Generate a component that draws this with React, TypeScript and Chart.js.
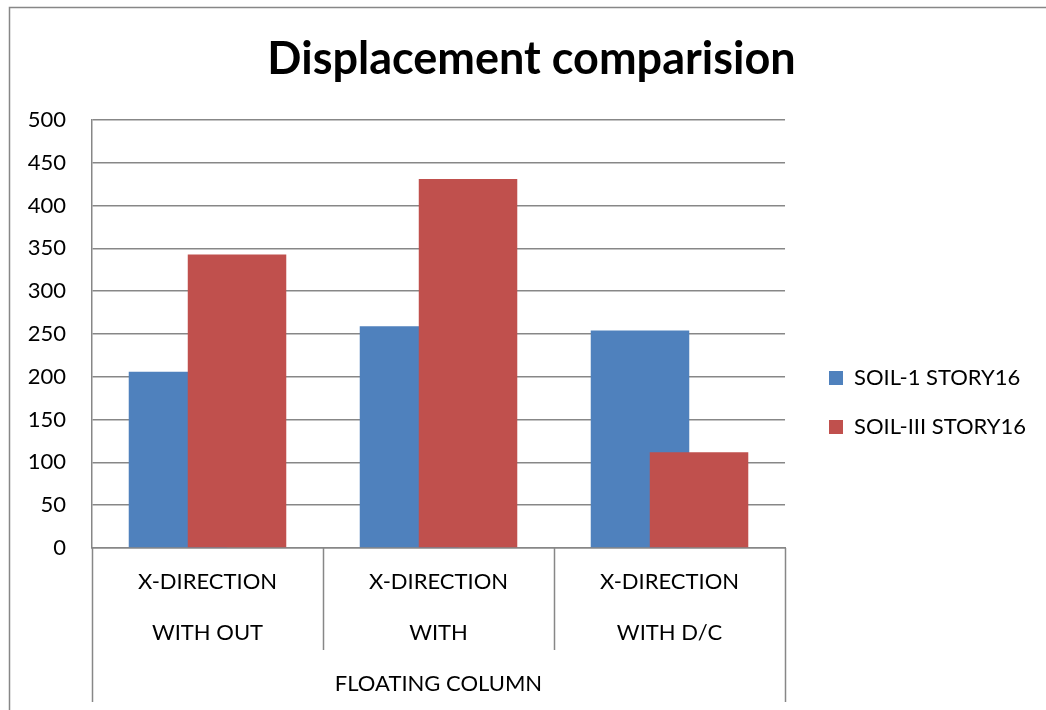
import React, { useEffect, useRef } from "react";
import { Chart, registerables } from "chart.js";

Chart.register(...registerables);

// ---- data ----
const categoryLabels: string[][] = [
  ["X-DIRECTION", "WITH OUT"],
  ["X-DIRECTION", "WITH"],
  ["X-DIRECTION", "WITH D/C"],
];
const groupLabel = "FLOATING COLUMN";
const chartTitle = "Displacement comparision";
const seriesNames = ["SOIL-1 STORY16", "SOIL-III STORY16"];
const soil1Values = [206, 259, 254];
const soil3Values = [343, 431, 112];
const yMin = 0;
const yMax = 500;
const yStep = 50;

const FONT = "Lato, 'Open Sans', sans-serif";
const LINE = "#878787";

// draw datasets in index order so the second series sits on top (Excel overlap)
const drawOrderPlugin = {
  id: "drawOrder",
  beforeDatasetsDraw(chart: any) {
    const ctx = chart.ctx;
    const a = chart.chartArea;
    ctx.save();
    ctx.beginPath();
    ctx.rect(a.left, a.top, a.right - a.left, a.bottom - a.top);
    ctx.clip();
    chart.getSortedVisibleDatasetMetas().forEach((m: any) => m.controller.draw());
    ctx.restore();
    return false;
  },
};

const framePlugin = {
  id: "frame",
  beforeDraw(chart: any) {
    const ctx = chart.ctx;
    ctx.save();
    ctx.fillStyle = "#ffffff";
    ctx.fillRect(0, 0, chart.width, chart.height);
    ctx.strokeStyle = LINE;
    ctx.lineWidth = 1.5;
    ctx.strokeRect(9.5, 7.5, chart.width + 20, chart.height + 20);
    ctx.restore();
  },
  afterDraw(chart: any) {
    const xs = chart.scales.x;
    const ctx = chart.ctx;
    const n = categoryLabels.length;
    ctx.save();
    ctx.strokeStyle = LINE;
    ctx.lineWidth = 1.5;
    for (let i = 0; i <= n; i++) {
      const px = Math.round(xs.getPixelForValue(i - 0.5)) + 0.5;
      const outer = i === 0 || i === n;
      const yEnd = outer ? xs.bottom - 8 : xs.top + 102;
      ctx.beginPath();
      ctx.moveTo(px, xs.top);
      ctx.lineTo(px, yEnd);
      ctx.stroke();
    }
    ctx.restore();
  },
};

export default function App() {
  const ref = useRef<HTMLCanvasElement | null>(null);

  useEffect(() => {
    if (!ref.current) return;
    Chart.defaults.color = "#000";
    const chart = new Chart(ref.current, {
      type: "bar",
      data: {
        labels: categoryLabels,
        datasets: [
          {
            label: seriesNames[0],
            data: soil1Values,
            backgroundColor: "#4F81BD",
            borderWidth: 0,
            categoryPercentage: 0.511,
            barPercentage: 1.669,
          },
          {
            label: seriesNames[1],
            data: soil3Values,
            backgroundColor: "#C0504D",
            borderWidth: 0,
            categoryPercentage: 0.511,
            barPercentage: 1.669,
          },
        ],
      },
      options: {
        responsive: false,
        animation: false,
        layout: { padding: { left: 27, top: 95, right: 10, bottom: 0 } },
        plugins: {
          tooltip: { enabled: false },
          title: {
            display: true,
            text: chartTitle,
            color: "#000",
            font: { family: FONT, size: 45, weight: "bold" },
            padding: { top: -62.5, bottom: 33.5 },
          },
          legend: {
            position: "right",
            maxWidth: 400,
            labels: {
              boxWidth: 14,
              boxHeight: 14,
              padding: 27,
              color: "#000",
              font: { family: FONT, size: 22 },
            },
          },
        },
        scales: {
          x: {
            grid: { display: false },
            border: { display: true, color: LINE, width: 1.5 },
            ticks: {
              padding: 0,
              color: "#000",
              font: { family: FONT, size: 22, lineHeight: 2.33 },
              maxRotation: 0,
              autoSkip: false,
            },
            title: {
              display: true,
              text: groupLabel,
              color: "#000",
              font: { family: FONT, size: 22 },
              padding: { top: 0, bottom: 13 },
            },
            afterFit: (s: any) => {
              s.height = 162;
            },
          },
          y: {
            min: yMin,
            max: yMax,
            grid: { color: LINE, lineWidth: 1.5, drawTicks: false },
            border: { display: true, color: LINE, width: 1.5 },
            ticks: {
              stepSize: yStep,
              padding: 26,
              color: "#000",
              font: { family: FONT, size: 22 },
            },
            afterFit: (s: any) => {
              s.width = 65;
            },
          },
          gap: {
            type: "linear",
            position: "right",
            display: true,
            grid: { display: false },
            border: { display: false },
            ticks: { display: false },
            afterFit: (s: any) => {
              s.width = 17;
            },
          },
        },
      },
      plugins: [drawOrderPlugin, framePlugin],
    } as any);
    return () => chart.destroy();
  }, []);

  return (
    <div style={{ position: "absolute", left: 0, top: 0, width: 1046, height: 710 }}>
      <canvas ref={ref} width={1046} height={710} />
    </div>
  );
}
